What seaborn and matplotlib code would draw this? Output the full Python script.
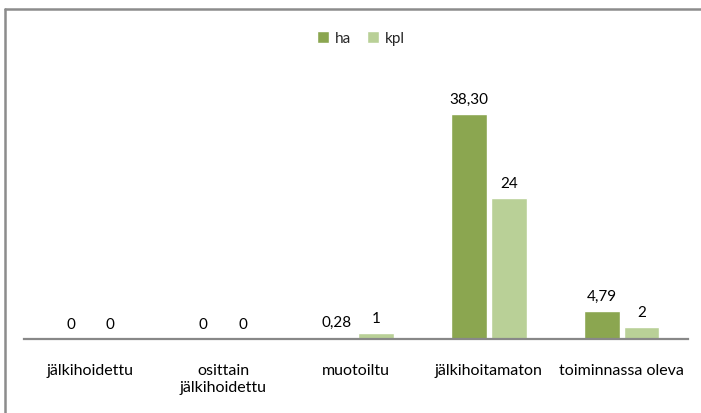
import numpy as np
import pandas as pd
import seaborn as sns
import matplotlib.pyplot as plt
from matplotlib.lines import Line2D

# data
categories = ["jälkihoidettu", "osittain\njälkihoidettu", "muotoiltu", "jälkihoitamaton", "toiminnassa oleva"]
ha_values = [0, 0, 0.28, 38.30, 4.79]
kpl_values = [0, 0, 1, 24, 2]
ha_labels = ["0", "0", "0,28", "38,30", "4,79"]
kpl_labels = ["0", "0", "1", "24", "2"]
series_names = ["ha", "kpl"]
colors = ["#8ba650", "#b9d097"]

df = pd.DataFrame({
    "kategoria": categories * 2,
    "arvo": ha_values + kpl_values,
    "sarja": [series_names[0]] * len(categories) + [series_names[1]] * len(categories),
})

sns.set_theme(style="white")
plt.rcParams["font.family"] = ["Lato", "DejaVu Sans"]

fig = plt.figure(figsize=(7.01, 4.14), dpi=100)
ax = fig.add_axes([24 / 701, 74 / 414, 664 / 701, 320 / 414])

sns.barplot(data=df, x="kategoria", y="arvo", hue="sarja", order=categories,
            palette=colors, width=0.6, gap=0.1, saturation=1, ax=ax)

# data labels
for cont, labs in zip(ax.containers, [ha_labels, kpl_labels]):
    ax.bar_label(cont, labels=labs, padding=6, fontsize=11, color="black")

ax.set_ylim(0, 54.5)
ax.set_xlim(-0.5, len(categories) - 0.5)
ax.set_xlabel("")
ax.set_ylabel("")
ax.set_yticks([])
for side in ["top", "right", "left"]:
    ax.spines[side].set_visible(False)
ax.spines["bottom"].set_color("#888888")
ax.spines["bottom"].set_linewidth(1.6)
ax.tick_params(axis="x", length=0, pad=17, labelsize=11.5, colors="black")
for t in ax.get_xticklabels():
    t.set_linespacing(1.3)

# legend on top
handles, labels = ax.get_legend_handles_labels()
ax.get_legend().remove()
fig.legend(handles, labels, loc="center", bbox_to_anchor=(361 / 701, 1 - 39 / 414),
           ncol=2, frameon=False, fontsize=11, handlelength=0.8, handleheight=0.8,
           handletextpad=0.4, columnspacing=1.0)

# chart border (only left and top edges visible in the crop)
fig.add_artist(Line2D([5 / 701, 5 / 701], [0, 1 - 10 / 414], transform=fig.transFigure,
                      color="#8c8c8c", linewidth=1.8))
fig.add_artist(Line2D([5 / 701, 1], [1 - 10 / 414, 1 - 10 / 414], transform=fig.transFigure,
                      color="#8c8c8c", linewidth=1.8))

fig.savefig("out.png", dpi=100)
